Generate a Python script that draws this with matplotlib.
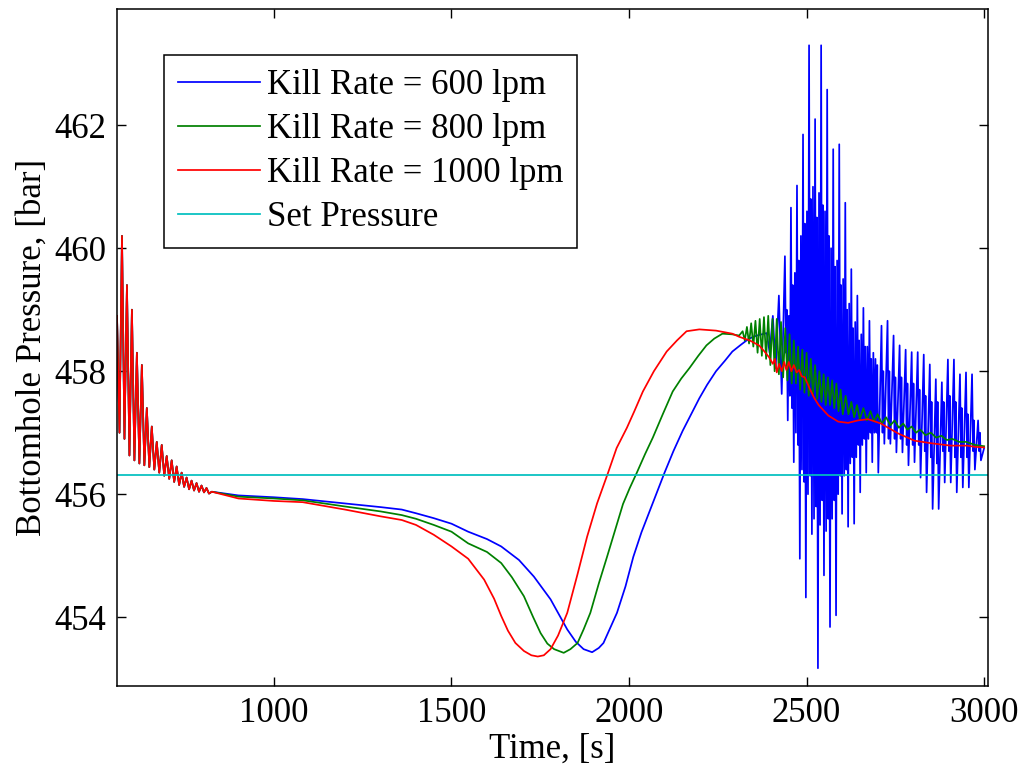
"""Bottomhole pressure during the kill operation for three kill rates."""
import matplotlib
matplotlib.use("Agg")
import matplotlib.pyplot as plt
import numpy as np

OUT = "out.png"

# shared start-up transient (all three rates ride on top of each other here)
t_start = [558, 565, 572, 579, 586, 593, 600, 607, 614, 621, 628, 635, 642, 649,
           656, 663, 670, 677, 684, 691, 698, 705, 712, 719, 726, 733, 740, 747,
           754, 761, 768, 775, 782, 789, 796, 803, 810, 817, 825]
p_start = [458.9, 457.0, 460.2, 456.9, 459.4, 456.63, 459.0, 456.55, 458.3, 456.5,
           458.1, 456.47, 457.4, 456.44, 457.1, 456.4, 456.85, 456.35, 456.8, 456.3,
           456.62, 456.25, 456.55, 456.2, 456.45, 456.15, 456.35, 456.12, 456.27,
           456.08, 456.22, 456.06, 456.18, 456.04, 456.14, 456.03, 456.1, 456.01,
           456.04]

# 600 lpm: smooth dip and recovery
t_600 = [900, 1000, 1081, 1200, 1300, 1360, 1400, 1450, 1500, 1547, 1600, 1640,
         1690, 1732, 1779, 1826, 1850, 1872, 1896, 1915, 1928, 1945, 1966, 1990,
         2012, 2035, 2059, 2080, 2100, 2125, 2151, 2175, 2198, 2220, 2245, 2270,
         2291, 2315, 2338, 2360, 2388, 2396, 2405, 2413, 2422, 2430]
p_600 = [455.98, 455.95, 455.92, 455.85, 455.79, 455.75, 455.69, 455.61, 455.52,
         455.39, 455.27, 455.15, 454.93, 454.66, 454.29, 453.8, 453.6, 453.48,
         453.43, 453.5, 453.58, 453.8, 454.07, 454.5, 454.98, 455.38, 455.74,
         456.05, 456.35, 456.7, 457.03, 457.3, 457.56, 457.78, 458.0, 458.17,
         458.32, 458.43, 458.53, 458.58, 458.62, 458.30, 458.90, 458.05, 459.23,
         457.63]

# 600 lpm: choke oscillation after gas reaches surface
t_600_osc = [2439, 2442, 2444, 2447, 2450, 2453, 2456, 2459, 2461, 2464, 2467,
             2470, 2473, 2476, 2478, 2481, 2484, 2487, 2490, 2493, 2495, 2498,
             2501, 2504, 2507, 2510, 2512, 2515, 2518, 2521, 2524, 2527, 2529,
             2532, 2535, 2538, 2541, 2544, 2546, 2549, 2552, 2555, 2558, 2561,
             2563, 2566, 2569, 2572, 2575, 2578, 2580, 2583, 2586, 2589, 2592,
             2595, 2597, 2600, 2603, 2606, 2609, 2612, 2614, 2617, 2620, 2623,
             2626, 2629, 2631, 2634, 2637, 2640, 2643, 2646, 2648, 2651, 2654,
             2657, 2660, 2663, 2665, 2668, 2671, 2674, 2677, 2680, 2682, 2685,
             2688, 2691, 2694, 2697, 2699, 2702, 2711, 2714, 2716, 2719, 2728,
             2731, 2733, 2736, 2745, 2748, 2750, 2753, 2762, 2765, 2767, 2770,
             2779, 2782, 2784, 2787, 2796, 2799, 2801, 2804, 2813, 2816, 2818,
             2821, 2830, 2833, 2835, 2838, 2847, 2850, 2852, 2855, 2864, 2867,
             2869, 2872, 2881, 2884, 2886, 2889, 2898, 2901, 2903, 2906, 2915,
             2918, 2920, 2923, 2932, 2935, 2937, 2940, 2949, 2952, 2954, 2957,
             2966, 2969, 2971, 2974, 2983, 2986, 2988, 2991, 3000]
p_600_osc = [459.87, 458.3, 459.0, 457.20, 458.9, 457.6, 460.66, 457.4, 459.4,
             456.52, 459.6, 457.0, 461.02, 456.8, 459.8, 454.95, 460.2, 456.4,
             461.85, 456.2, 460.4, 454.32, 460.6, 456.0, 463.3, 456.3, 460.8,
             455.35, 461.0, 455.6, 462.10, 455.8, 460.5, 453.17, 460.9, 455.5,
             463.3, 455.9, 460.7, 454.68, 460.6, 455.4, 462.58, 455.6, 460.2,
             453.84, 460.0, 455.6, 461.61, 455.9, 459.7, 454.03, 459.8, 456.0,
             461.69, 456.3, 459.4, 455.68, 459.5, 456.3, 460.74, 456.4, 459.0,
             455.47, 459.1, 456.5, 459.66, 456.6, 458.7, 455.52, 458.8, 456.6,
             459.23, 456.8, 458.5, 456.03, 458.6, 456.8, 459.03, 456.9, 458.4,
             456.35, 458.4, 456.9, 458.82, 457.0, 458.2, 456.52, 458.3, 457.0,
             458.20, 457.0, 458.1, 456.35, 458.74, 457.0, 458.0, 456.82, 458.82,
             456.9, 458.0, 456.82, 458.58, 456.9, 457.9, 456.68, 458.42, 456.9,
             457.9, 456.68, 458.35, 456.8, 457.8, 456.47, 458.31, 456.8, 457.8,
             456.52, 458.31, 456.8, 457.7, 456.27, 458.27, 456.7, 457.6, 456.03,
             458.11, 456.6, 457.5, 455.76, 457.87, 456.5, 457.5, 455.76, 457.82,
             456.7, 457.5, 456.19, 458.19, 456.7, 457.6, 456.19, 458.19, 456.6,
             457.5, 456.03, 457.95, 456.6, 457.4, 456.11, 457.98, 456.6, 457.3,
             456.11, 457.95, 456.7, 457.2, 456.40, 457.20, 456.7, 457.0, 456.55,
             456.75]

# 800 lpm
t_800 = [900, 1000, 1081, 1200, 1300, 1360, 1400, 1450, 1500, 1547, 1600, 1640,
         1670, 1704, 1730, 1751, 1770, 1789, 1816, 1835, 1855, 1872, 1891, 1915,
         1938, 1960, 1983, 2002, 2022, 2045, 2067, 2095, 2123, 2147, 2170, 2195,
         2218, 2240, 2263, 2290, 2310,
         2320, 2326, 2332, 2338, 2344, 2350, 2356, 2362, 2368, 2374, 2380, 2386,
         2392, 2398, 2404, 2410, 2416, 2422, 2428, 2434, 2440, 2446, 2452, 2458,
         2464, 2470, 2476, 2482, 2488, 2494, 2500, 2506, 2512, 2518, 2524, 2530,
         2536, 2542, 2548, 2554, 2560, 2566, 2572, 2578, 2584, 2590, 2596, 2602,
         2610, 2618, 2626, 2634, 2642, 2650, 2660, 2670, 2680, 2690, 2700, 2712,
         2724, 2736, 2748, 2760, 2772, 2784, 2796, 2808, 2820, 2835, 2850, 2865,
         2880, 2895, 2910, 2930, 2950, 2975, 3000]
p_800 = [455.96, 455.93, 455.9, 455.8, 455.72, 455.66, 455.6, 455.5, 455.39,
         455.2, 455.06, 454.88, 454.65, 454.34, 454.0, 453.74, 453.57, 453.48,
         453.42, 453.48, 453.58, 453.8, 454.07, 454.55, 454.98, 455.4, 455.84,
         456.1, 456.35, 456.65, 456.92, 457.3, 457.67, 457.88, 458.05, 458.25,
         458.42, 458.53, 458.61, 458.6, 458.58,
         458.65, 458.5, 458.72, 458.45, 458.78, 458.4, 458.82, 458.3, 458.85,
         458.25, 458.88, 458.2, 458.9, 458.1, 458.85, 458.0, 458.85, 457.95,
         458.8, 457.9, 458.7, 457.85, 458.6, 457.8, 458.5, 457.8, 458.4, 457.7,
         458.35, 457.65, 458.3, 457.6, 458.2, 457.6, 458.1, 457.55, 458.0, 457.5,
         457.95, 457.45, 457.9, 457.45, 457.85, 457.4, 457.8, 457.35, 457.7,
         457.3, 457.6, 457.3, 457.5, 457.25, 457.45, 457.22, 457.4, 457.2,
         457.35, 457.18, 457.3, 457.15, 457.25, 457.12, 457.2, 457.08, 457.15,
         457.05, 457.1, 457.0, 457.05, 456.96, 457.0, 456.92, 456.95, 456.88,
         456.9, 456.85, 456.85, 456.8, 456.78]

# 1000 lpm
t_1000 = [900, 1000, 1081, 1200, 1300, 1360, 1400, 1450, 1500, 1547, 1592, 1620,
          1640, 1659, 1680, 1704, 1725, 1743, 1760, 1779, 1800, 1826, 1855, 1882,
          1910, 1941, 1965, 1994, 2015, 2039, 2070, 2106, 2135, 2162, 2198, 2245,
          2291, 2310, 2340, 2366, 2380, 2394, 2405, 2411, 2416, 2423, 2430, 2437,
          2443, 2450, 2457, 2464, 2472, 2479, 2486, 2495, 2511, 2522, 2534, 2561,
          2589, 2617, 2645, 2673, 2709, 2757, 2804, 2849, 2905, 2952, 2975, 3000]
p_1000 = [455.93, 455.89, 455.87, 455.75, 455.64, 455.58, 455.5, 455.34, 455.15,
          454.95, 454.61, 454.3, 454.02, 453.78, 453.58, 453.45, 453.38, 453.36,
          453.38, 453.48, 453.7, 454.07, 454.7, 455.31, 455.85, 456.35, 456.75,
          457.08, 457.35, 457.67, 458.0, 458.32, 458.5, 458.65, 458.68, 458.66,
          458.61, 458.56, 458.5, 458.42, 458.33, 458.23, 458.12, 458.2, 457.98,
          458.12, 458.0, 458.15, 458.02, 458.15, 458.0, 458.1, 457.98, 458.02,
          457.92, 457.9, 457.69, 457.56, 457.45, 457.28, 457.18, 457.16, 457.2,
          457.22, 457.15, 456.99, 456.87, 456.83, 456.79, 456.79, 456.77, 456.76]

set_pressure = 456.31

series = [
    ("Kill Rate = 600 lpm", [t_start, t_600, t_600_osc],
     [p_start, p_600, p_600_osc], (0, 0, 1)),
    ("Kill Rate = 800 lpm", [t_start, t_800], [p_start, p_800], (0, 0.5, 0)),
    ("Kill Rate = 1000 lpm", [t_start, t_1000], [p_start, p_1000], (1, 0, 0)),
]

FS = 25


def main() -> None:
    plt.rcParams["font.family"] = ["Liberation Serif", "DejaVu Serif"]
    plt.rcParams["font.size"] = FS

    fig = plt.figure(figsize=(10.21, 7.71), dpi=100)
    ax = fig.add_axes([0.1146, 0.1102, 0.8531, 0.8781])

    for label, ts, ps, color in series:
        ax.plot(np.concatenate(ts), np.concatenate(ps), color=color, lw=1.25,
                label=label)
    ax.axhline(set_pressure, color=(0, 0.75, 0.75), lw=1.25, label="Set Pressure")

    ax.set_xlim(558, 3011)
    ax.set_ylim(452.88, 463.89)
    ax.set_xticks([1000, 1500, 2000, 2500, 3000])
    ax.set_yticks([454, 456, 458, 460, 462])
    ax.tick_params(direction="in", length=6.5, width=1.0, top=True, right=True,
                   labelsize=FS, pad=8)
    for s in ax.spines.values():
        s.set_linewidth(1.1)

    ax.set_xlabel("Time, [s]", labelpad=2)
    ax.set_ylabel("Bottomhole Pressure, [bar]", labelpad=4)

    leg = ax.legend(loc="upper left", bbox_to_anchor=(0.054, 0.932),
                    fontsize=FS, handlelength=2.36, handletextpad=0.2,
                    labelspacing=0.32, borderpad=0.4, borderaxespad=0,
                    fancybox=False, framealpha=1)
    leg.get_frame().set_edgecolor("black")
    leg.get_frame().set_linewidth(1.1)

    fig.savefig(OUT, dpi=100)


if __name__ == "__main__":
    main()
